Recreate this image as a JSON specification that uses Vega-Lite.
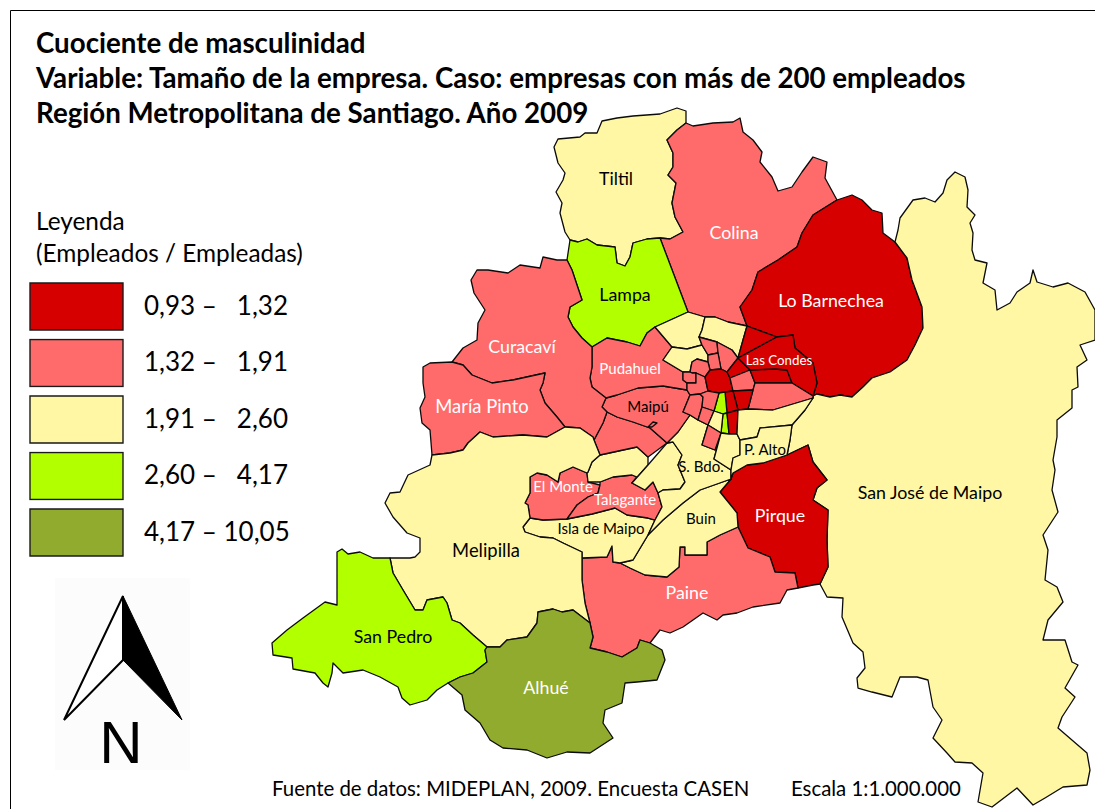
{"$schema":"https://vega.github.io/schema/vega-lite/v6.json","width":1095,"height":809,"padding":0,"autosize":{"type":"fit","contains":"padding"},"background":"#ffffff","view":{"stroke":null},"projection":{"type":"identity","scale":1,"translate":[0,0]},
"datasets":{
"comunas":[
{"type":"Feature","properties":{"comuna":"Tiltil","clase":"1,91 – 2,60"},"geometry":{"type":"Polygon","coordinates":[[[570,240],[565,232],[560,213],[562,203],[556,192],[563,180],[565,173],[558,163],[554,147],[558,139],[580,137],[585,133],[597,133],[602,121],[617,118],[633,116],[660,114],[677,108],[686,111],[686,123],[677,130],[667,140],[673,153],[673,167],[668,175],[676,183],[672,203],[675,217],[683,232],[670,239],[660,238],[647,239],[633,243],[630,257],[625,266],[617,263],[615,247],[597,245],[587,239],[578,242],[570,240]]]}},
{"type":"Feature","properties":{"comuna":"Colina","clase":"1,32 – 1,91"},"geometry":{"type":"Polygon","coordinates":[[[686,123],[693,126],[713,123],[733,122],[740,118],[743,132],[753,140],[762,152],[760,162],[772,177],[778,191],[792,187],[802,172],[813,157],[827,162],[825,178],[837,200],[813,215],[802,233],[797,247],[778,260],[758,272],[752,290],[740,307],[747,326],[728,322],[715,317],[705,317],[688,312],[660,238],[670,239],[683,232],[675,217],[672,203],[676,183],[668,175],[673,167],[673,153],[667,140],[677,130],[686,123]]]}},
{"type":"Feature","properties":{"comuna":"Lampa","clase":"2,60 – 4,17"},"geometry":{"type":"Polygon","coordinates":[[[570,240],[578,242],[587,239],[597,245],[615,247],[617,263],[625,266],[630,257],[633,243],[647,239],[660,238],[688,312],[655,327],[647,333],[640,346],[627,342],[607,338],[592,347],[582,338],[573,327],[568,317],[570,307],[582,300],[577,285],[572,270],[567,260],[570,240]]]}},
{"type":"Feature","properties":{"comuna":"Lo Barnechea","clase":"0,93 – 1,32"},"geometry":{"type":"Polygon","coordinates":[[[837,200],[852,195],[862,200],[872,210],[882,213],[883,233],[895,242],[907,258],[912,280],[915,288],[922,307],[923,328],[915,345],[907,360],[890,372],[872,378],[863,387],[852,397],[840,395],[830,397],[817,394],[813,396],[817,383],[813,363],[795,348],[793,335],[777,337],[747,326],[740,307],[752,290],[758,272],[778,260],[797,247],[802,233],[813,215],[837,200]]]}},
{"type":"Feature","properties":{"comuna":"San José de Maipo","clase":"1,91 – 2,60"},"geometry":{"type":"Polygon","coordinates":[[[813,398],[813,396],[817,394],[830,397],[840,395],[852,397],[863,387],[872,378],[890,372],[907,360],[915,345],[923,328],[922,307],[915,288],[912,280],[907,258],[895,242],[898,230],[900,218],[913,200],[925,198],[935,202],[943,193],[947,180],[955,172],[965,177],[968,190],[967,207],[975,215],[970,223],[973,233],[972,250],[975,260],[987,263],[983,283],[995,290],[997,310],[1010,303],[1017,292],[1030,283],[1033,270],[1037,282],[1053,287],[1068,283],[1085,292],[1095,310],[1095,340],[1080,345],[1087,360],[1077,367],[1078,387],[1072,390],[1072,408],[1057,420],[1057,437],[1053,460],[1055,470],[1052,490],[1058,512],[1043,535],[1048,550],[1045,580],[1057,587],[1063,602],[1048,620],[1043,640],[1055,640],[1065,640],[1072,662],[1078,665],[1065,688],[1075,697],[1062,717],[1058,728],[1087,753],[1090,770],[1087,785],[1063,787],[1045,798],[1033,805],[1017,788],[992,807],[978,802],[983,773],[972,763],[955,762],[947,753],[933,738],[942,720],[933,707],[928,680],[917,677],[900,677],[892,697],[872,692],[858,688],[857,678],[865,668],[863,652],[853,643],[842,617],[843,598],[827,597],[820,584],[828,567],[827,540],[828,510],[813,500],[817,488],[827,480],[813,462],[808,445],[787,455],[790,440],[792,425],[805,410],[813,398]]]}},
{"type":"Feature","properties":{"comuna":"Pirque","clase":"0,93 – 1,32"},"geometry":{"type":"Polygon","coordinates":[[[731,479],[720,492],[737,513],[738,527],[748,548],[770,557],[775,572],[795,573],[798,588],[813,585],[820,584],[828,567],[827,540],[828,510],[813,500],[817,488],[827,480],[813,462],[808,445],[787,455],[763,463],[747,465],[733,473],[731,479]]]}},
{"type":"Feature","properties":{"comuna":"Paine","clase":"1,32 – 1,91"},"geometry":{"type":"Polygon","coordinates":[[[582,558],[607,557],[612,546],[613,562],[620,563],[630,568],[645,575],[667,577],[679,567],[680,547],[685,547],[685,555],[707,555],[707,542],[720,535],[738,527],[748,548],[770,557],[775,572],[795,573],[798,588],[787,590],[780,603],[753,607],[737,613],[723,615],[717,620],[703,613],[683,627],[670,633],[660,630],[650,643],[640,640],[637,648],[622,657],[607,652],[590,648],[593,637],[590,623],[585,603],[582,580],[582,558]]]}},
{"type":"Feature","properties":{"comuna":"Buin","clase":"1,91 – 2,60"},"geometry":{"type":"Polygon","coordinates":[[[731,479],[720,492],[737,513],[738,527],[720,535],[707,542],[707,555],[685,555],[685,547],[680,547],[679,567],[667,577],[645,575],[630,568],[620,563],[633,560],[648,535],[663,520],[683,503],[700,490],[731,479]]]}},
{"type":"Feature","properties":{"comuna":"Isla de Maipo","clase":"1,91 – 2,60"},"geometry":{"type":"Polygon","coordinates":[[[523,527],[530,518],[543,520],[567,519],[592,514],[615,508],[627,515],[648,518],[655,520],[648,535],[633,560],[620,563],[613,562],[612,546],[607,557],[582,558],[582,552],[563,543],[553,538],[540,537],[525,532],[523,527]]]}},
{"type":"Feature","properties":{"comuna":"El Monte","clase":"1,32 – 1,91"},"geometry":{"type":"Polygon","coordinates":[[[530,477],[537,473],[547,475],[558,482],[560,473],[573,467],[587,473],[588,482],[600,485],[598,493],[588,497],[577,505],[567,519],[543,520],[530,518],[528,505],[525,503],[530,493],[530,477]]]}},
{"type":"Feature","properties":{"comuna":"Talagante","clase":"1,32 – 1,91"},"geometry":{"type":"Polygon","coordinates":[[[600,482],[613,477],[632,475],[637,477],[632,483],[645,490],[653,482],[658,493],[662,507],[655,520],[648,518],[627,515],[615,508],[592,514],[567,519],[577,505],[588,497],[598,493],[600,485],[600,482]]]}},
{"type":"Feature","properties":{"comuna":"Peñaflor","clase":"1,91 – 2,60"},"geometry":{"type":"Polygon","coordinates":[[[588,472],[592,462],[600,455],[623,450],[637,447],[648,457],[648,465],[632,483],[637,477],[632,475],[613,477],[600,482],[588,482],[587,473],[588,472]]]}},
{"type":"Feature","properties":{"comuna":"Calera de Tango","clase":"1,91 – 2,60"},"geometry":{"type":"Polygon","coordinates":[[[632,483],[648,465],[667,443],[673,442],[682,455],[678,465],[685,482],[680,489],[663,490],[658,493],[653,482],[645,490],[632,483]]]}},
{"type":"Feature","properties":{"comuna":"San Bernardo","clase":"1,91 – 2,60"},"geometry":{"type":"Polygon","coordinates":[[[673,442],[667,443],[678,432],[690,415],[698,420],[708,425],[702,445],[715,450],[721,433],[714,459],[731,470],[731,479],[700,490],[683,503],[663,520],[648,535],[655,520],[662,507],[658,493],[663,490],[680,489],[685,482],[678,465],[682,455],[673,442]]]}},
{"type":"Feature","properties":{"comuna":"Padre Hurtado","clase":"1,32 – 1,91"},"geometry":{"type":"Polygon","coordinates":[[[607,412],[617,417],[633,422],[650,428],[667,443],[648,457],[637,447],[623,450],[600,455],[594,440],[603,423],[607,412]]]}},
{"type":"Feature","properties":{"comuna":"Maipú","clase":"1,32 – 1,91"},"geometry":{"type":"Polygon","coordinates":[[[607,412],[602,407],[606,398],[617,395],[638,388],[663,386],[687,390],[690,395],[683,412],[690,415],[678,432],[667,443],[650,428],[633,422],[617,417],[607,412]]]}},
{"type":"Feature","properties":{"comuna":"Isla Maipú","clase":"1,32 – 1,91"},"geometry":{"type":"Polygon","coordinates":[[[648,427],[653,422],[657,423],[652,427],[648,427]]]}},
{"type":"Feature","properties":{"comuna":"Pudahuel","clase":"1,32 – 1,91"},"geometry":{"type":"Polygon","coordinates":[[[592,347],[607,338],[627,342],[640,346],[647,333],[655,327],[672,347],[663,360],[683,372],[683,380],[687,383],[687,390],[663,386],[638,388],[617,395],[606,398],[592,387],[590,378],[592,367],[592,347]]]}},
{"type":"Feature","properties":{"comuna":"Curacaví","clase":"1,32 – 1,91"},"geometry":{"type":"Polygon","coordinates":[[[567,260],[557,260],[543,257],[540,268],[520,265],[508,273],[488,270],[477,270],[471,280],[474,293],[485,310],[478,323],[477,340],[463,348],[452,362],[463,365],[472,375],[492,383],[513,380],[545,373],[543,383],[540,390],[545,403],[557,417],[565,427],[580,428],[593,437],[594,440],[603,423],[607,412],[602,407],[606,398],[592,387],[590,378],[592,367],[592,347],[582,338],[573,327],[568,317],[570,307],[582,300],[577,285],[572,270],[567,260]]]}},
{"type":"Feature","properties":{"comuna":"María Pinto","clase":"1,32 – 1,91"},"geometry":{"type":"Polygon","coordinates":[[[423,367],[430,363],[452,362],[463,365],[472,375],[492,383],[513,380],[545,373],[543,383],[540,390],[545,403],[557,417],[565,427],[547,437],[523,435],[493,437],[480,432],[468,443],[463,450],[450,453],[432,455],[430,430],[422,423],[420,408],[425,397],[423,383],[423,367]]]}},
{"type":"Feature","properties":{"comuna":"Melipilla","clase":"1,91 – 2,60"},"geometry":{"type":"Polygon","coordinates":[[[432,455],[450,453],[463,450],[468,443],[480,432],[493,437],[523,435],[547,437],[565,427],[580,428],[593,437],[594,440],[600,455],[592,462],[588,472],[587,473],[573,467],[560,473],[558,482],[547,475],[537,473],[530,477],[530,493],[525,503],[528,505],[530,518],[523,527],[525,532],[540,537],[553,538],[563,543],[582,552],[582,580],[585,603],[590,623],[573,610],[562,612],[553,609],[538,612],[537,623],[527,637],[507,640],[500,647],[487,647],[473,635],[460,623],[452,620],[447,603],[443,597],[427,600],[423,610],[415,610],[403,590],[393,573],[390,558],[410,558],[415,557],[420,552],[420,538],[407,533],[393,517],[385,503],[390,493],[400,492],[408,475],[430,465],[432,455]]]}},
{"type":"Feature","properties":{"comuna":"San Pedro","clase":"2,60 – 4,17"},"geometry":{"type":"Polygon","coordinates":[[[337,552],[342,549],[348,554],[360,552],[373,558],[390,558],[393,573],[403,590],[415,610],[423,610],[427,600],[443,597],[447,603],[452,620],[460,623],[473,635],[487,647],[485,650],[487,662],[473,673],[460,677],[448,683],[437,690],[427,700],[410,705],[402,698],[398,687],[380,677],[363,670],[343,673],[333,663],[332,673],[328,687],[323,683],[315,673],[293,669],[292,658],[273,655],[272,643],[287,630],[303,618],[325,602],[337,605],[337,552]]]}},
{"type":"Feature","properties":{"comuna":"Alhué","clase":"4,17 – 10,05"},"geometry":{"type":"Polygon","coordinates":[[[487,647],[500,647],[507,640],[527,637],[537,623],[538,612],[553,609],[562,612],[573,610],[590,623],[593,637],[590,648],[607,652],[622,657],[637,648],[640,640],[650,643],[662,650],[665,660],[657,680],[637,682],[625,683],[622,703],[605,710],[603,723],[613,738],[590,753],[567,752],[547,758],[527,750],[503,748],[490,740],[480,723],[465,710],[462,695],[448,683],[460,677],[473,673],[487,662],[485,650],[487,647]]]}},
{"type":"Feature","properties":{"comuna":"Quilicura","clase":"1,91 – 2,60"},"geometry":{"type":"Polygon","coordinates":[[[655,327],[688,312],[705,317],[702,330],[699,337],[702,345],[687,349],[672,347],[655,327]]]}},
{"type":"Feature","properties":{"comuna":"Renca","clase":"1,91 – 2,60"},"geometry":{"type":"Polygon","coordinates":[[[672,347],[687,349],[702,345],[708,355],[708,362],[697,359],[692,362],[690,372],[683,372],[663,360],[672,347]]]}},
{"type":"Feature","properties":{"comuna":"Huechuraba","clase":"1,91 – 2,60"},"geometry":{"type":"Polygon","coordinates":[[[705,317],[715,317],[728,322],[747,326],[743,340],[738,358],[732,350],[717,342],[699,337],[702,330],[705,317]]]}},
{"type":"Feature","properties":{"comuna":"Conchalí","clase":"1,32 – 1,91"},"geometry":{"type":"Polygon","coordinates":[[[699,337],[717,342],[718,353],[708,355],[702,345],[699,337]]]}},
{"type":"Feature","properties":{"comuna":"Recoleta","clase":"1,32 – 1,91"},"geometry":{"type":"Polygon","coordinates":[[[717,342],[732,350],[738,358],[727,372],[721,369],[718,353],[717,342]]]}},
{"type":"Feature","properties":{"comuna":"Independencia","clase":"1,32 – 1,91"},"geometry":{"type":"Polygon","coordinates":[[[708,355],[718,353],[721,369],[710,370],[708,362],[708,355]]]}},
{"type":"Feature","properties":{"comuna":"Quinta Normal","clase":"1,32 – 1,91"},"geometry":{"type":"Polygon","coordinates":[[[692,362],[697,359],[708,362],[710,370],[705,377],[696,373],[692,373],[690,372],[692,362]]]}},
{"type":"Feature","properties":{"comuna":"Lo Prado","clase":"1,32 – 1,91"},"geometry":{"type":"Polygon","coordinates":[[[683,372],[690,372],[692,373],[696,373],[696,383],[687,383],[683,380],[683,372]]]}},
{"type":"Feature","properties":{"comuna":"Estación Central","clase":"1,32 – 1,91"},"geometry":{"type":"Polygon","coordinates":[[[696,373],[705,377],[708,391],[700,394],[690,395],[687,390],[687,383],[696,383],[696,373]]]}},
{"type":"Feature","properties":{"comuna":"Santiago","clase":"0,93 – 1,32"},"geometry":{"type":"Polygon","coordinates":[[[710,370],[721,369],[727,372],[730,378],[733,391],[725,392],[719,393],[708,391],[705,377],[710,370]]]}},
{"type":"Feature","properties":{"comuna":"Providencia","clase":"0,93 – 1,32"},"geometry":{"type":"Polygon","coordinates":[[[727,372],[738,358],[750,370],[730,378],[727,372]]]}},
{"type":"Feature","properties":{"comuna":"Ñuñoa","clase":"1,32 – 1,91"},"geometry":{"type":"Polygon","coordinates":[[[730,378],[750,370],[755,383],[753,390],[733,391],[730,378]]]}},
{"type":"Feature","properties":{"comuna":"La Reina","clase":"0,93 – 1,32"},"geometry":{"type":"Polygon","coordinates":[[[750,370],[775,369],[787,370],[792,383],[755,383],[750,370]]]}},
{"type":"Feature","properties":{"comuna":"Vitacura","clase":"0,93 – 1,32"},"geometry":{"type":"Polygon","coordinates":[[[747,326],[777,337],[738,358],[743,340],[747,326]]]}},
{"type":"Feature","properties":{"comuna":"Las Condes","clase":"0,93 – 1,32"},"geometry":{"type":"Polygon","coordinates":[[[738,358],[777,337],[793,335],[795,348],[813,363],[817,383],[813,396],[792,383],[787,370],[775,369],[750,370],[738,358]]]}},
{"type":"Feature","properties":{"comuna":"Peñalolén","clase":"1,32 – 1,91"},"geometry":{"type":"Polygon","coordinates":[[[755,383],[792,383],[813,396],[813,398],[773,410],[748,409],[753,390],[755,383]]]}},
{"type":"Feature","properties":{"comuna":"Macul","clase":"0,93 – 1,32"},"geometry":{"type":"Polygon","coordinates":[[[733,391],[753,390],[748,409],[738,410],[733,391]]]}},
{"type":"Feature","properties":{"comuna":"San Joaquín","clase":"0,93 – 1,32"},"geometry":{"type":"Polygon","coordinates":[[[725,392],[733,391],[738,410],[727,413],[725,392]]]}},
{"type":"Feature","properties":{"comuna":"San Miguel","clase":"2,60 – 4,17"},"geometry":{"type":"Polygon","coordinates":[[[719,393],[725,392],[727,413],[723,414],[714,411],[719,393]]]}},
{"type":"Feature","properties":{"comuna":"La Cisterna","clase":"2,60 – 4,17"},"geometry":{"type":"Polygon","coordinates":[[[723,414],[727,413],[729,434],[721,433],[723,414]]]}},
{"type":"Feature","properties":{"comuna":"La Granja","clase":"0,93 – 1,32"},"geometry":{"type":"Polygon","coordinates":[[[727,413],[738,410],[737,434],[729,434],[727,413]]]}},
{"type":"Feature","properties":{"comuna":"Cerrillos","clase":"1,32 – 1,91"},"geometry":{"type":"Polygon","coordinates":[[[690,395],[700,394],[703,397],[702,407],[698,420],[690,415],[683,412],[690,395]]]}},
{"type":"Feature","properties":{"comuna":"P. A. Cerda","clase":"1,32 – 1,91"},"geometry":{"type":"Polygon","coordinates":[[[700,394],[708,391],[719,393],[714,411],[702,407],[703,397],[700,394]]]}},
{"type":"Feature","properties":{"comuna":"Lo Espejo","clase":"1,32 – 1,91"},"geometry":{"type":"Polygon","coordinates":[[[702,407],[714,411],[708,425],[698,420],[702,407]]]}},
{"type":"Feature","properties":{"comuna":"El Bosque","clase":"1,91 – 2,60"},"geometry":{"type":"Polygon","coordinates":[[[714,411],[723,414],[721,433],[708,425],[714,411]]]}},
{"type":"Feature","properties":{"comuna":"La Pintana oeste","clase":"1,32 – 1,91"},"geometry":{"type":"Polygon","coordinates":[[[708,425],[721,433],[715,450],[702,445],[708,425]]]}},
{"type":"Feature","properties":{"comuna":"La Pintana","clase":"1,91 – 2,60"},"geometry":{"type":"Polygon","coordinates":[[[721,433],[729,434],[737,434],[740,440],[740,455],[733,458],[731,470],[714,459],[721,433]]]}},
{"type":"Feature","properties":{"comuna":"La Florida","clase":"1,91 – 2,60"},"geometry":{"type":"Polygon","coordinates":[[[738,410],[748,409],[773,410],[813,398],[805,410],[792,425],[760,428],[757,437],[740,440],[737,434],[738,410]]]}},
{"type":"Feature","properties":{"comuna":"Puente Alto","clase":"1,91 – 2,60"},"geometry":{"type":"Polygon","coordinates":[[[740,440],[757,437],[760,428],[792,425],[790,440],[787,455],[763,463],[747,465],[733,473],[731,479],[731,470],[733,458],[740,455],[740,440]]]}}
],
"rotulos":[
{"nombre":"Colina","lon":734,"lat":234,"tono":"claro","cuerpo":"b"},
{"nombre":"Lo Barnechea","lon":831,"lat":302,"tono":"claro","cuerpo":"b"},
{"nombre":"Curacaví","lon":522,"lat":348,"tono":"claro","cuerpo":"b"},
{"nombre":"Pudahuel","lon":630,"lat":369,"tono":"claro","cuerpo":"c"},
{"nombre":"Las Condes","lon":779,"lat":361,"tono":"claro","cuerpo":"d"},
{"nombre":"María Pinto","lon":482,"lat":407,"tono":"claro","cuerpo":"a"},
{"nombre":"Pirque","lon":780,"lat":517,"tono":"claro","cuerpo":"b"},
{"nombre":"El Monte","lon":563,"lat":487,"tono":"claro","cuerpo":"c"},
{"nombre":"Talagante","lon":625,"lat":500,"tono":"claro","cuerpo":"c"},
{"nombre":"Paine","lon":687,"lat":594,"tono":"claro","cuerpo":"b"},
{"nombre":"Alhué","lon":546,"lat":689,"tono":"claro","cuerpo":"b"},
{"nombre":"Tiltil","lon":616,"lat":180,"tono":"oscuro","cuerpo":"b"},
{"nombre":"Lampa","lon":625,"lat":296,"tono":"oscuro","cuerpo":"b"},
{"nombre":"Maipú","lon":648,"lat":407,"tono":"oscuro","cuerpo":"c"},
{"nombre":"S. Bdo.","lon":701,"lat":467,"tono":"oscuro","cuerpo":"c"},
{"nombre":"P. Alto","lon":765,"lat":450,"tono":"oscuro","cuerpo":"c"},
{"nombre":"San José de Maipo","lon":930,"lat":494,"tono":"oscuro","cuerpo":"b"},
{"nombre":"Isla de Maipo","lon":601,"lat":529,"tono":"oscuro","cuerpo":"c"},
{"nombre":"Buin","lon":701,"lat":519,"tono":"oscuro","cuerpo":"c"},
{"nombre":"Melipilla","lon":486,"lat":551,"tono":"oscuro","cuerpo":"a"},
{"nombre":"San Pedro","lon":393,"lat":638,"tono":"oscuro","cuerpo":"b"}
]
},
"layer":[
{"data":{"values":[{"type":"Feature","properties":{"p":"fondo"},"geometry":{"type":"Polygon","coordinates":[[[55,578],[190,578],[190,770],[55,770],[55,578]]]}}]},"mark":{"type":"geoshape","fill":"#fcfcfc","stroke":null},"encoding":{}},
{"data":{"values":[{"type":"Feature","properties":{"p":"marco"},"geometry":{"type":"LineString","coordinates":[[10.5,809],[10.5,10.5],[1095,10.5]]}}]},"mark":{"type":"geoshape","filled":false,"stroke":"#000000","strokeWidth":1},"encoding":{}},
{"data":{"name":"comunas"},"mark":{"type":"geoshape","stroke":"#0b0b0b","strokeWidth":1.3,"strokeJoin":"round"},"encoding":{"color":{"field":"properties.clase","type":"nominal","scale":{"domain":["0,93 – 1,32","1,32 – 1,91","1,91 – 2,60","2,60 – 4,17","4,17 – 10,05"],"range":["#d70000","#ff6b6b","#fff7a3","#b2ff00","#91ab2e"]},"legend":{"title":null,"orient":"none","legendX":29,"legendY":282,"symbolType":"M-1,-0.505H1V0.505H-1Z","symbolSize":8649,"symbolStrokeColor":"#1a1a1a","symbolStrokeWidth":1.4,"symbolOpacity":1,"labelFont":"Lato","labelFontSize":26,"labelColor":"#000000","labelOffset":20,"clipHeight":49,"rowPadding":7.5,"labelLimit":200,"labelExpr":"length(datum.label)<12 ? replace(datum.label,' – ',' –\u00a0\u00a0\u00a0') : datum.label"}}}},
{"data":{"values":[{"type":"Feature","properties":{"p":"flecha"},"geometry":{"type":"Polygon","coordinates":[[[123,596],[64,720],[123,660],[123,596]]]}}]},"mark":{"type":"geoshape","fill":"#ffffff","stroke":"#000000","strokeWidth":2,"strokeJoin":"miter"},"encoding":{}},
{"data":{"values":[{"type":"Feature","properties":{"p":"flecha"},"geometry":{"type":"Polygon","coordinates":[[[123,596],[182,720],[123,660],[123,596]]]}}]},"mark":{"type":"geoshape","fill":"#000000","stroke":"#000000","strokeWidth":1},"encoding":{}},
{"data":{"name":"rotulos"},"transform":[{"filter":"datum.cuerpo==='a'"}],"mark":{"type":"text","font":"Lato","fontSize":18.4,"baseline":"middle"},"encoding":{"longitude":{"field":"lon","type":"quantitative"},"latitude":{"field":"lat","type":"quantitative"},"text":{"field":"nombre"},"fill":{"condition":{"test":"datum.tono==='claro'","value":"#ffffff"},"value":"#000000"}}},
{"data":{"name":"rotulos"},"transform":[{"filter":"datum.cuerpo==='b'"}],"mark":{"type":"text","font":"Lato","fontSize":17.8,"baseline":"middle"},"encoding":{"longitude":{"field":"lon","type":"quantitative"},"latitude":{"field":"lat","type":"quantitative"},"text":{"field":"nombre"},"fill":{"condition":{"test":"datum.tono==='claro'","value":"#ffffff"},"value":"#000000"}}},
{"data":{"name":"rotulos"},"transform":[{"filter":"datum.cuerpo==='c'"}],"mark":{"type":"text","font":"Lato","fontSize":15,"baseline":"middle"},"encoding":{"longitude":{"field":"lon","type":"quantitative"},"latitude":{"field":"lat","type":"quantitative"},"text":{"field":"nombre"},"fill":{"condition":{"test":"datum.tono==='claro'","value":"#ffffff"},"value":"#000000"}}},
{"data":{"name":"rotulos"},"transform":[{"filter":"datum.cuerpo==='d'"}],"mark":{"type":"text","font":"Lato","fontSize":13.3,"baseline":"middle"},"encoding":{"longitude":{"field":"lon","type":"quantitative"},"latitude":{"field":"lat","type":"quantitative"},"text":{"field":"nombre"},"fill":{"condition":{"test":"datum.tono==='claro'","value":"#ffffff"},"value":"#000000"}}},
{"data":{"values":[{"t":"Cuociente de masculinidad","lon":36,"lat":53},{"t":"Variable: Tamaño de la empresa. Caso: empresas con más de 200 empleados","lon":36,"lat":88},{"t":"Región Metropolitana de Santiago. Año 2009","lon":36,"lat":123}]},"mark":{"type":"text","font":"Lato","fontWeight":"bold","fontSize":27.7,"align":"left","baseline":"alphabetic","fill":"#000000"},"encoding":{"longitude":{"field":"lon","type":"quantitative"},"latitude":{"field":"lat","type":"quantitative"},"text":{"field":"t"}}},
{"data":{"values":[{"t":"Leyenda","lon":36,"lat":230},{"t":"(Empleados / Empleadas)","lon":36,"lat":262}]},"mark":{"type":"text","font":"Lato","fontSize":24.4,"align":"left","baseline":"alphabetic","fill":"#000000"},"encoding":{"longitude":{"field":"lon","type":"quantitative"},"latitude":{"field":"lat","type":"quantitative"},"text":{"field":"t"}}},
{"data":{"values":[{"t":"Fuente de datos: MIDEPLAN, 2009. Encuesta CASEN","lon":272,"lat":796},{"t":"Escala 1:1.000.000","lon":791,"lat":796}]},"mark":{"type":"text","font":"Lato","fontSize":20.4,"align":"left","baseline":"alphabetic","fill":"#000000"},"encoding":{"longitude":{"field":"lon","type":"quantitative"},"latitude":{"field":"lat","type":"quantitative"},"text":{"field":"t"}}},
{"data":{"values":[{"t":"N","lon":121,"lat":763}]},"mark":{"type":"text","font":"Liberation Sans","fontSize":60,"align":"center","baseline":"alphabetic","fill":"#000000"},"encoding":{"longitude":{"field":"lon","type":"quantitative"},"latitude":{"field":"lat","type":"quantitative"},"text":{"field":"t"}}}
]}
